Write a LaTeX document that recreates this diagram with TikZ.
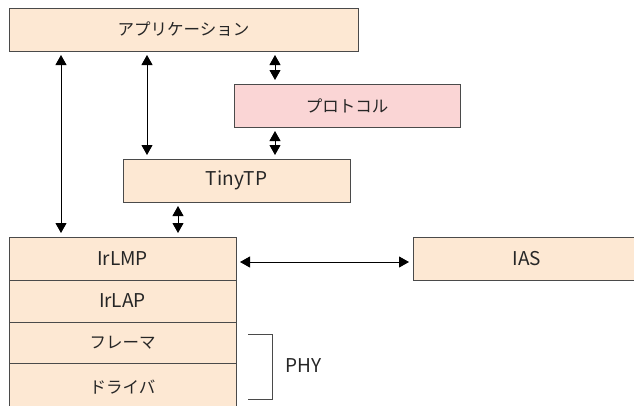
\documentclass[tikz,border=0pt]{standalone}
\usepackage{fontspec}
\setmainfont{Noto Sans CJK JP}
\usetikzlibrary{arrows.meta}
\definecolor{peach}{HTML}{FDE8D3}
\definecolor{pinkbox}{HTML}{FAD5D5}
\definecolor{edge}{HTML}{4A4A4A}
\tikzset{
  layer/.style={draw=edge, line width=0.9pt, fill=peach, inner sep=0pt, outer sep=0pt, font=\fontsize{16.5}{19}\selectfont, text=black!85},
  latin/.style={font=\fontsize{19}{22}\selectfont},
  dbl/.style={line width=1pt, {Triangle[length=10pt,width=11pt]}-{Triangle[length=10pt,width=11pt]}, shorten <=4pt, shorten >=4pt}
}
\begin{document}
\begin{tikzpicture}[x=1pt,y=-1pt]
\useasboundingbox (0,0) rectangle (634,405);
\clip (0,0) rectangle (634,405);
\node[layer, minimum width=349pt, minimum height=43pt] (app) at (183.5,29.5) {アプリケーション};
\node[layer, fill=pinkbox, minimum width=226pt, minimum height=43pt] (prot) at (347,105.5) {プロトコル};
\node[layer, latin, minimum width=227pt, minimum height=43pt] (tiny) at (236.5,180.5) {TinyTP};
\node[layer, latin, minimum width=227pt, minimum height=43pt] (lmp) at (122.5,258.5) {IrLMP};
\node[layer, latin, minimum width=227pt, minimum height=42pt] (lap) at (122.5,301) {IrLAP};
\node[layer, minimum width=227pt, minimum height=41pt] (frm) at (122.5,342.5) {フレーマ};
\node[layer, minimum width=227pt, minimum height=48pt] (drv) at (122.5,387) {ドライバ};
\node[layer, latin, minimum width=228pt, minimum height=43pt] (ias) at (527,258.5) {IAS};
\node[latin, text=black!85, anchor=west, inner sep=0pt] (phy) at (285,366) {PHY};
\coordinate (b1) at (248,334);
\coordinate (b2) at (272,334);
\coordinate (b3) at (272,399);
\coordinate (b4) at (248,399);
\draw[edge, line width=0.9pt] (b1) -- (b2) -- (b3) -- (b4);
\draw[dbl] (app.south -| 61,0) -- (lmp.north -| 61,0);
\draw[dbl] (app.south -| 147,0) -- (tiny.north -| 147,0);
\draw[dbl] (app.south -| 275,0) -- (prot.north -| 275,0);
\draw[dbl] (prot.south -| 275,0) -- (tiny.north -| 275,0);
\draw[dbl] (tiny.south -| 178,0) -- (lmp.north -| 178,0);
\draw[dbl] (lmp.east |- 0,262) -- (ias.west |- 0,262);
\end{tikzpicture}
\end{document}
